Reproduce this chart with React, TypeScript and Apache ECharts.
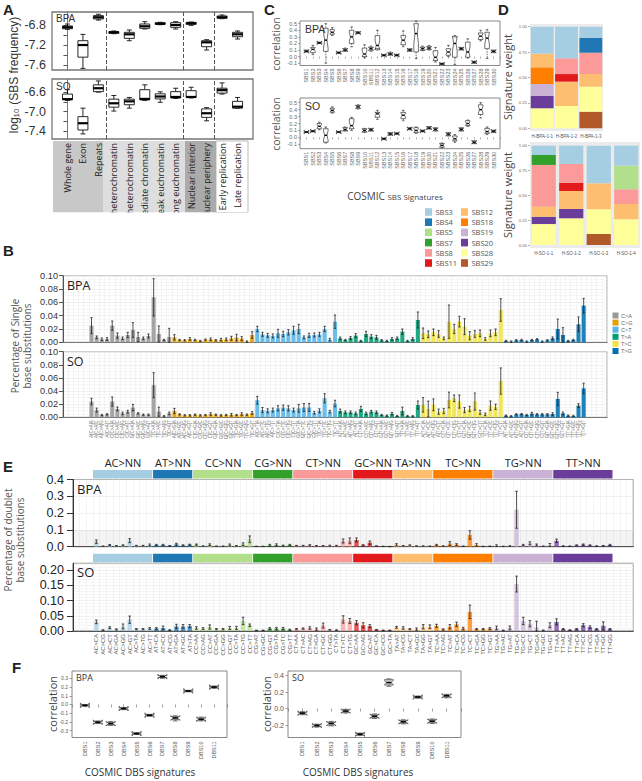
import React, { useEffect, useRef } from "react";
import * as echarts from "echarts";

// ---------------- Panel A ----------------
const A_CATEGORIES = ["Whole gene", "Exon", "Repeats", "Strong heterochromatin", "Weak heterochromatin", "Intermediate chromatin", "Weak euchromatin", "Strong euchromatin", "Nuclear interior", "Nuclear periphery", "Early replication", "Late replication"];
// [min, q1, median, q3, max]
const A_BPA = [
  [-6.877, -6.865, -6.836, -6.81, -6.77],
  [-7.667, -7.44, -7.195, -7.107, -6.98],
  [-6.69, -6.668, -6.634, -6.6, -6.573],
  [-6.966, -6.958, -6.938, -6.925, -6.911],
  [-7.108, -7.06, -6.978, -6.938, -6.891],
  [-6.871, -6.857, -6.816, -6.77, -6.723],
  [-6.784, -6.776, -6.764, -6.743, -6.735],
  [-6.871, -6.837, -6.79, -6.743, -6.723],
  [-6.797, -6.776, -6.757, -6.737, -6.73],
  [-7.296, -7.229, -7.14, -7.108, -7.087],
  [-6.662, -6.654, -6.634, -6.607, -6.587],
  [-7.074, -7.027, -6.978, -6.938, -6.911],
];
const A_SO = [
  [-6.77, -6.755, -6.745, -6.64, -6.55],
  [-7.46, -7.38, -7.24, -7.105, -6.93],
  [-6.6, -6.59, -6.52, -6.45, -6.37],
  [-6.99, -6.91, -6.83, -6.745, -6.67],
  [-6.93, -6.86, -6.79, -6.745, -6.71],
  [-6.77, -6.76, -6.74, -6.55, -6.45],
  [-6.81, -6.74, -6.69, -6.635, -6.594],
  [-6.73, -6.72, -6.7, -6.59, -6.52],
  [-6.72, -6.71, -6.7, -6.57, -6.5],
  [-7.19, -7.12, -7.035, -6.945, -6.92],
  [-6.64, -6.62, -6.56, -6.52, -6.41],
  [-6.93, -6.93, -6.9, -6.79, -6.71],
];
const A_GROUP_BREAKS = [2.5, 7.5, 9.5];
const A_BPA_TICKS = [-7.6, -7.4, -7.2, -7.0, -6.8];
const A_BPA_LABELS = [-7.6, -7.2, -6.8];
const A_SO_TICKS = [-7.4, -7.2, -7.0, -6.8, -6.6];
const A_SO_LABELS = [-7.4, -7.0, -6.6];

// ---------------- Panel C ----------------
const C_SIGNATURES = ["SBS1", "SBS2", "SBS3", "SBS4", "SBS5", "SBS6", "SBS7", "SBS8", "SBS9", "SBS10", "SBS11", "SBS12", "SBS13", "SBS14", "SBS15", "SBS16", "SBS17", "SBS18", "SBS19", "SBS20", "SBS21", "SBS22", "SBS23", "SBS24", "SBS25", "SBS26", "SBS27", "SBS28", "SBS29", "SBS30"];
const C_BPA = [
  [0.07, 0.075, 0.08, 0.09, 0.1], [0.03, 0.06, 0.11, 0.14, 0.17], [0.2, 0.205, 0.21, 0.215, 0.22],
  [-0.1, 0.08, 0.25, 0.43, 0.5], [0.32, 0.34, 0.37, 0.41, 0.44], [0.05, 0.055, 0.06, 0.065, 0.07],
  [0.08, 0.09, 0.1, 0.115, 0.13], [0.15, 0.2, 0.3, 0.4, 0.45], [0.35, 0.355, 0.36, 0.37, 0.38],
  [-0.02, 0.0, 0.04, 0.13, 0.18], [0.08, 0.1, 0.12, 0.14, 0.16], [0.1, 0.12, 0.17, 0.32, 0.4],
  [0.01, 0.015, 0.02, 0.025, 0.03], [0.02, 0.03, 0.04, 0.05, 0.07], [0.01, 0.015, 0.02, 0.03, 0.035],
  [0.15, 0.18, 0.25, 0.32, 0.39], [0.08, 0.09, 0.1, 0.11, 0.12], [-0.03, 0.07, 0.35, 0.5, 0.54],
  [0.09, 0.1, 0.12, 0.14, 0.16], [0.1, 0.11, 0.13, 0.15, 0.17], [-0.08, -0.06, -0.01, 0.09, 0.14],
  [-0.12, -0.115, -0.11, -0.105, -0.1], [0.0, 0.02, 0.07, 0.12, 0.17], [-0.12, -0.01, 0.2, 0.3, 0.32],
  [0.1, 0.11, 0.12, 0.13, 0.14], [-0.02, -0.01, 0.07, 0.22, 0.27], [-0.1, -0.095, -0.085, -0.075, -0.07],
  [0.24, 0.26, 0.31, 0.36, 0.4], [-0.03, 0.12, 0.28, 0.37, 0.41], [0.06, 0.07, 0.08, 0.09, 0.1],
];
const C_SO = [
  [0.07, 0.073, 0.077, 0.082, 0.085], [0.08, 0.085, 0.09, 0.095, 0.1], [0.11, 0.125, 0.16, 0.2, 0.22],
  [-0.08, -0.07, 0.03, 0.125, 0.15], [0.35, 0.365, 0.39, 0.42, 0.44], [0.07, 0.073, 0.077, 0.082, 0.085],
  [0.09, 0.1, 0.115, 0.14, 0.15], [0.1, 0.125, 0.17, 0.27, 0.29], [0.41, 0.42, 0.44, 0.46, 0.47],
  [0.07, 0.08, 0.1, 0.12, 0.13], [0.09, 0.1, 0.11, 0.125, 0.13], [0.26, 0.29, 0.34, 0.36, 0.39],
  [-0.03, -0.025, -0.02, -0.015, -0.01], [0.03, 0.04, 0.05, 0.06, 0.07], [0.045, 0.05, 0.055, 0.06, 0.065],
  [0.24, 0.27, 0.32, 0.36, 0.39], [0.11, 0.115, 0.125, 0.135, 0.14], [0.06, 0.07, 0.1, 0.14, 0.15],
  [0.08, 0.085, 0.09, 0.1, 0.105], [0.12, 0.13, 0.135, 0.15, 0.155], [0.09, 0.1, 0.115, 0.13, 0.14],
  [-0.15, -0.14, -0.115, -0.09, -0.08], [0.02, 0.03, 0.045, 0.06, 0.07], [-0.07, -0.05, -0.02, 0.02, 0.04],
  [0.09, 0.1, 0.115, 0.13, 0.14], [0.16, 0.17, 0.2, 0.24, 0.25], [-0.09, -0.085, -0.07, -0.055, -0.05],
  [0.28, 0.33, 0.4, 0.47, 0.5], [0.04, 0.06, 0.085, 0.13, 0.15], [0.07, 0.08, 0.09, 0.1, 0.105],
];
const C_TICKS = [-0.1, 0, 0.1, 0.2, 0.3, 0.4, 0.5];

// ---------------- Panel D ----------------
const D_SIGNATURES = ["SBS3", "SBS4", "SBS5", "SBS7", "SBS8", "SBS11", "SBS12", "SBS18", "SBS19", "SBS20", "SBS28", "SBS29"];
const D_COLORS = ["#a6cee3", "#1f78b4", "#b2df8a", "#33a02c", "#fb9a99", "#e31a1c", "#fdbf6f", "#ff7f00", "#cab2d6", "#6a3d9a", "#ffff99", "#b15928"];
const D_BPA_SAMPLES = ["H-BPA-1-1", "H-BPA-1-2", "H-BPA-1-3"];
const D_SO_SAMPLES = ["H-SO-1-1", "H-SO-1-2", "H-SO-1-3", "H-SO-1-4"];
const D_BPA_WEIGHTS = [
  [0.266, 0.311, 0.108], [0, 0, 0.148], [0, 0, 0], [0, 0, 0], [0, 0.155, 0.21], [0, 0.075, 0],
  [0.134, 0.24, 0.124], [0.164, 0, 0], [0.118, 0, 0], [0.121, 0, 0], [0.197, 0.219, 0.247], [0, 0, 0.163],
];
const D_SO_WEIGHTS = [
  [0.094, 0.184, 0.379, 0.201], [0, 0, 0, 0], [0, 0, 0, 0.238], [0.1, 0, 0, 0], [0.42, 0.189, 0, 0.148], [0, 0.083, 0, 0],
  [0.101, 0.181, 0.261, 0.154], [0, 0, 0, 0], [0, 0, 0, 0], [0.074, 0.094, 0, 0], [0.211, 0.269, 0.249, 0.259], [0, 0, 0.111, 0],
];
const D_TICKS = [0, 0.25, 0.5, 0.75, 1];

// ---------------- Panel B ----------------
const SBS_TYPES = ["C>A", "C>G", "C>T", "T>A", "T>C", "T>G"];
const SBS_COLORS = ["#999999", "#E69F00", "#56B4E9", "#009E73", "#F0E442", "#0072B2"];
const BASES = ["A", "C", "G", "T"];
const BPA_SBS_MEAN = [
  [0.025, 0.0075, 0.0045, 0.005, 0.025, 0.01, 0.006, 0.011, 0.0185, 0.008, 0.006, 0.0095, 0.0675, 0.0125, 0.0035, 0.008],
  [0.0075, 0.0035, 0.003, 0.005, 0.0035, 0.002, 0.004, 0.0045, 0.003, 0.004, 0.0045, 0.006, 0.007, 0.0055, 0.001, 0.011],
  [0.02, 0.012, 0.0105, 0.0095, 0.0135, 0.0125, 0.015, 0.018, 0.02, 0.0075, 0.0105, 0.011, 0.012, 0.02, 0.004, 0.031],
  [0.006, 0.0035, 0.0065, 0.01, 0.002, 0.0125, 0.0085, 0.0075, 0.003, 0.002, 0.005, 0.006, 0.016, 0.002, 0.005, 0.0335],
  [0.0135, 0.012, 0.015, 0.0125, 0.006, 0.031, 0.02, 0.031, 0.0235, 0.01, 0.0125, 0.0135, 0.005, 0.0135, 0.015, 0.0485],
  [0.002, 0.001, 0.003, 0.0035, 0.001, 0.0035, 0.0045, 0.001, 0.003, 0.006, 0.02, 0.011, 0.002, 0.0035, 0.027, 0.055],
];
const BPA_SBS_SD = [
  [0.012, 0.002, 0.002, 0.002, 0.007, 0.004, 0.002, 0.004, 0.011, 0.007, 0.002, 0.003, 0.028, 0.012, 0.001, 0.013],
  [0.004, 0.001, 0.001, 0.002, 0.001, 0.001, 0.001, 0.002, 0.001, 0.002, 0.002, 0.003, 0.005, 0.003, 0.001, 0.005],
  [0.004, 0.003, 0.003, 0.003, 0.006, 0.004, 0.004, 0.006, 0.007, 0.002, 0.003, 0.003, 0.003, 0.004, 0.002, 0.01],
  [0.002, 0.001, 0.002, 0.003, 0.001, 0.004, 0.003, 0.003, 0.001, 0.001, 0.002, 0.002, 0.004, 0.001, 0.002, 0.012],
  [0.008, 0.005, 0.005, 0.005, 0.002, 0.025, 0.007, 0.008, 0.012, 0.006, 0.005, 0.005, 0.002, 0.005, 0.005, 0.017],
  [0.001, 0.001, 0.001, 0.001, 0.001, 0.001, 0.001, 0.001, 0.001, 0.002, 0.015, 0.011, 0.001, 0.001, 0.011, 0.011],
];
const SO_SBS_MEAN = [
  [0.024, 0.011, 0.0035, 0.0045, 0.024, 0.0127, 0.006, 0.0086, 0.0147, 0.006, 0.004, 0.004, 0.049, 0.0086, 0.0015, 0.006],
  [0.0096, 0.0045, 0.003, 0.003, 0.004, 0.003, 0.0035, 0.005, 0.004, 0.003, 0.0035, 0.004, 0.0035, 0.005, 0.004, 0.0066],
  [0.026, 0.011, 0.01, 0.011, 0.0137, 0.0147, 0.0137, 0.011, 0.0137, 0.015, 0.015, 0.007, 0.01, 0.029, 0.0086, 0.021],
  [0.0096, 0.0076, 0.0076, 0.006, 0.0127, 0.006, 0.0086, 0.0076, 0.0035, 0.0025, 0.0055, 0.002, 0.0096, 0.002, 0.0015, 0.0188],
  [0.019, 0.0127, 0.019, 0.0086, 0.0096, 0.0264, 0.029, 0.024, 0.011, 0.0127, 0.024, 0.0076, 0.0045, 0.0178, 0.016, 0.0553],
  [0.0025, 0.0015, 0.0045, 0.005, 0.0035, 0.0056, 0.0045, 0.0045, 0.0045, 0.005, 0.028, 0.006, 0.0025, 0.002, 0.0178, 0.044],
];
const SO_SBS_SD = [
  [0.005, 0.003, 0.001, 0.001, 0.007, 0.003, 0.002, 0.002, 0.005, 0.001, 0.001, 0.001, 0.019, 0.007, 0.001, 0.002],
  [0.004, 0.001, 0.001, 0.001, 0.001, 0.001, 0.001, 0.002, 0.001, 0.001, 0.001, 0.002, 0.001, 0.002, 0.001, 0.002],
  [0.006, 0.004, 0.003, 0.003, 0.004, 0.004, 0.004, 0.003, 0.006, 0.006, 0.006, 0.002, 0.003, 0.007, 0.002, 0.005],
  [0.003, 0.002, 0.002, 0.002, 0.004, 0.002, 0.002, 0.002, 0.001, 0.001, 0.002, 0.001, 0.006, 0.001, 0.001, 0.006],
  [0.011, 0.012, 0.009, 0.004, 0.004, 0.012, 0.005, 0.01, 0.004, 0.004, 0.013, 0.003, 0.002, 0.007, 0.004, 0.02],
  [0.001, 0.001, 0.001, 0.001, 0.001, 0.002, 0.001, 0.001, 0.001, 0.002, 0.01, 0.002, 0.001, 0.001, 0.003, 0.008],
];

// ---------------- Panel E ----------------
const DBS_GROUPS = ["AC>NN", "AT>NN", "CC>NN", "CG>NN", "CT>NN", "GC>NN", "TA>NN", "TC>NN", "TG>NN", "TT>NN"];
const DBS_GROUP_COLORS = ["#a6cee3", "#1f78b4", "#b2df8a", "#33a02c", "#fb9a99", "#e31a1c", "#fdbf6f", "#ff7f00", "#cab2d6", "#6a3d9a"];
const DBS_CONTEXTS = [
  "AC>CA", "AC>CG", "AC>CT", "AC>GA", "AC>GG", "AC>GT", "AC>TA", "AC>TG", "AC>TT",
  "AT>CA", "AT>CC", "AT>CG", "AT>GA", "AT>GC", "AT>TA",
  "CC>AA", "CC>AG", "CC>AT", "CC>GA", "CC>GG", "CC>GT", "CC>TA", "CC>TG", "CC>TT",
  "CG>AT", "CG>GC", "CG>GT", "CG>TA", "CG>TC", "CG>TT",
  "CT>AA", "CT>AC", "CT>AG", "CT>GA", "CT>GC", "CT>GG", "CT>TA", "CT>TC", "CT>TG",
  "GC>AA", "GC>AG", "GC>AT", "GC>CA", "GC>CG", "GC>TA",
  "TA>AT", "TA>CG", "TA>CT", "TA>GC", "TA>GG", "TA>GT",
  "TC>AA", "TC>AG", "TC>AT", "TC>CA", "TC>CG", "TC>CT", "TC>GA", "TC>GG", "TC>GT",
  "TG>AA", "TG>AC", "TG>AT", "TG>CA", "TG>CC", "TG>CT", "TG>GA", "TG>GC", "TG>GT",
  "TT>AA", "TT>AC", "TT>AG", "TT>CA", "TT>CC", "TT>CG", "TT>GA", "TT>GC", "TT>GG",
];
const BPA_DBS_MEAN = [
  [0.03, 0.003, 0.01, 0.005, 0.008, 0.036, 0.006, 0.006, 0.01],
  [0.01, 0.01, 0.005, 0.014, 0.008, 0.012],
  [0.012, 0.004, 0.012, 0.003, 0.003, 0.01, 0.005, 0.015, 0.044],
  [0.002, 0.002, 0.008, 0.01, 0.006, 0.01],
  [0.006, 0.006, 0.008, 0.005, 0.005, 0.006, 0.006, 0.034, 0.036],
  [0.04, 0.008, 0.024, 0.004, 0.002, 0.001],
  [0.012, 0.005, 0.008, 0.004, 0.004, 0.003],
  [0.01, 0.004, 0.018, 0.012, 0.003, 0.07, 0.01, 0.002, 0.003],
  [0.006, 0.002, 0.004, 0.22, 0.01, 0.02, 0.01, 0.003, 0.01],
  [0.035, 0.004, 0.003, 0.008, 0.012, 0.008, 0.004, 0.005, 0.01],
];
const BPA_DBS_SD = [
  [0.01, 0.001, 0.003, 0.002, 0.003, 0.012, 0.002, 0.002, 0.006],
  [0.004, 0.004, 0.002, 0.006, 0.003, 0.003],
  [0.004, 0.001, 0.005, 0.001, 0.001, 0.006, 0.002, 0.008, 0.02],
  [0.001, 0.001, 0.006, 0.007, 0.003, 0.004],
  [0.002, 0.002, 0.004, 0.002, 0.002, 0.003, 0.002, 0.012, 0.016],
  [0.012, 0.004, 0.01, 0.001, 0.001, 0.001],
  [0.006, 0.002, 0.003, 0.001, 0.001, 0.001],
  [0.004, 0.001, 0.012, 0.006, 0.001, 0.025, 0.008, 0.001, 0.001],
  [0.005, 0.001, 0.002, 0.11, 0.004, 0.009, 0.006, 0.001, 0.009],
  [0.01, 0.001, 0.001, 0.003, 0.004, 0.003, 0.001, 0.002, 0.004],
];
const SO_DBS_MEAN = [
  [0.03, 0.003, 0.011, 0.005, 0.015, 0.037, 0.006, 0.006, 0.008],
  [0.008, 0.01, 0.003, 0.015, 0.015, 0.016],
  [0.01, 0.008, 0.013, 0.006, 0.006, 0.01, 0.01, 0.033, 0.019],
  [0.002, 0.002, 0.008, 0.008, 0.008, 0.004],
  [0.006, 0.008, 0.01, 0.006, 0.018, 0.004, 0.003, 0.038, 0.033],
  [0.027, 0.019, 0.016, 0.004, 0.002, 0.002],
  [0.012, 0.01, 0.006, 0.006, 0.014, 0.014],
  [0.017, 0.005, 0.014, 0.022, 0.008, 0.063, 0.006, 0.006, 0.008],
  [0.01, 0.002, 0.01, 0.154, 0.033, 0.024, 0.012, 0.002, 0.019],
  [0.03, 0.006, 0.003, 0.006, 0.019, 0.013, 0.006, 0.017, 0.006],
];
const SO_DBS_SD = [
  [0.006, 0.001, 0.003, 0.002, 0.008, 0.012, 0.002, 0.002, 0.003],
  [0.003, 0.006, 0.001, 0.007, 0.006, 0.005],
  [0.004, 0.003, 0.007, 0.002, 0.002, 0.005, 0.005, 0.012, 0.004],
  [0.001, 0.001, 0.003, 0.004, 0.004, 0.002],
  [0.002, 0.002, 0.004, 0.004, 0.008, 0.001, 0.001, 0.012, 0.008],
  [0.007, 0.008, 0.005, 0.001, 0.001, 0.001],
  [0.003, 0.004, 0.002, 0.004, 0.007, 0.006],
  [0.005, 0.002, 0.007, 0.007, 0.004, 0.022, 0.002, 0.002, 0.003],
  [0.006, 0.001, 0.006, 0.026, 0.012, 0.01, 0.02, 0.001, 0.008],
  [0.01, 0.002, 0.001, 0.002, 0.005, 0.004, 0.002, 0.013, 0.002],
];

// ---------------- Panel F ----------------
const F_SIGNATURES = ["DBS1", "DBS2", "DBS3", "DBS4", "DBS5", "DBS6", "DBS7", "DBS8", "DBS9", "DBS10", "DBS11"];
const F_BPA = [
  [-0.02, -0.015, -0.01, -0.005, 0.0], [-0.22, -0.215, -0.205, -0.195, -0.19], [-0.24, -0.235, -0.22, -0.205, -0.195],
  [-0.06, -0.055, -0.047, -0.04, -0.035], [-0.345, -0.34, -0.335, -0.33, -0.325], [-0.135, -0.13, -0.124, -0.118, -0.113],
  [0.3, 0.31, 0.32, 0.33, 0.335], [-0.19, -0.175, -0.155, -0.14, -0.13], [0.145, 0.15, 0.155, 0.16, 0.163],
  [-0.19, -0.18, -0.17, -0.155, -0.145], [0.185, 0.193, 0.2, 0.207, 0.213],
];
const F_SO = [
  [-0.075, -0.068, -0.055, -0.045, -0.038], [-0.225, -0.215, -0.205, -0.195, -0.188], [-0.21, -0.2, -0.18, -0.165, -0.155],
  [-0.055, -0.045, -0.03, -0.015, -0.008], [-0.325, -0.32, -0.31, -0.302, -0.296], [-0.12, -0.11, -0.092, -0.075, -0.065],
  [0.27, 0.285, 0.315, 0.35, 0.36], [-0.185, -0.175, -0.16, -0.145, -0.135], [0.125, 0.132, 0.14, 0.147, 0.152],
  [-0.18, -0.17, -0.152, -0.135, -0.125], [0.13, 0.14, 0.155, 0.165, 0.173],
];
const F_BPA_TICKS = [-0.3, -0.2, -0.1, 0, 0.1, 0.2, 0.3];
const F_SO_TICKS = [-0.2, 0, 0.2, 0.4];

// ---------------- helpers ----------------
const ARIAL = "'Liberation Sans', Arial, sans-serif";
const SANS = "'Open Sans', 'Noto Sans', sans-serif";

function boxRenderer(cfg: any) {
  return (params: any, api: any) => {
    const x = api.value(0);
    const lo = api.value(1), q1 = api.value(2), med = api.value(3), q3 = api.value(4), hi = api.value(5);
    const c = api.coord([x, med]);
    const cx = c[0], yMed = c[1];
    const yLo = api.coord([x, lo])[1];
    const yQ1 = api.coord([x, q1])[1];
    const yQ3 = api.coord([x, q3])[1];
    const yHi = api.coord([x, hi])[1];
    const hw = cfg.w / 2;
    const ls = { stroke: cfg.stroke, lineWidth: cfg.lw, lineDash: cfg.dash || null };
    const cs = { stroke: cfg.stroke, lineWidth: cfg.lw };
    const ch: any[] = [
      { type: "line", shape: { x1: cx, y1: yHi, x2: cx, y2: yQ3 }, style: ls },
      { type: "line", shape: { x1: cx, y1: yQ1, x2: cx, y2: yLo }, style: ls },
      { type: "line", shape: { x1: cx - cfg.cap / 2, y1: yHi, x2: cx + cfg.cap / 2, y2: yHi }, style: cs },
      { type: "line", shape: { x1: cx - cfg.cap / 2, y1: yLo, x2: cx + cfg.cap / 2, y2: yLo }, style: cs },
    ];
    if (cfg.notch) {
      const n = Math.max((q3 - q1) * 0.35, cfg.minNotch);
      const yNH = api.coord([x, med + n])[1];
      const yNL = api.coord([x, med - n])[1];
      const pts = [
        [cx - hw, yQ3], [cx + hw, yQ3], [cx + hw, yNH], [cx + hw * 0.5, yMed], [cx + hw, yNL], [cx + hw, yQ1],
        [cx - hw, yQ1], [cx - hw, yNL], [cx - hw * 0.5, yMed], [cx - hw, yNH],
      ];
      ch.push({ type: "polygon", shape: { points: pts }, style: { fill: cfg.fill, stroke: cfg.stroke, lineWidth: cfg.lw } });
      ch.push({ type: "line", shape: { x1: cx - hw * 0.55, y1: yMed, x2: cx + hw * 0.55, y2: yMed }, style: { stroke: "#000", lineWidth: cfg.medW } });
    } else {
      ch.push({ type: "rect", shape: { x: cx - hw, y: yQ3, width: cfg.w, height: Math.max(yQ1 - yQ3, 0.5) }, style: { fill: cfg.fill, stroke: cfg.stroke, lineWidth: cfg.lw } });
      ch.push({ type: "line", shape: { x1: cx - hw, y1: yMed, x2: cx + hw, y2: yMed }, style: { stroke: "#000", lineWidth: cfg.medW } });
    }
    return { type: "group", children: ch };
  };
}

function errRenderer(capW: number) {
  return (params: any, api: any) => {
    const x = api.value(0), v = api.value(1), sd = api.value(2);
    const t = api.coord([x, v + sd]);
    const b = api.coord([x, Math.max(0, v - sd)]);
    const st = { stroke: "#222", lineWidth: 0.8 };
    return {
      type: "group",
      children: [
        { type: "line", shape: { x1: t[0], y1: t[1], x2: b[0], y2: b[1] }, style: st },
        { type: "line", shape: { x1: t[0] - capW / 2, y1: t[1], x2: t[0] + capW / 2, y2: t[1] }, style: st },
        { type: "line", shape: { x1: b[0] - capW / 2, y1: b[1], x2: b[0] + capW / 2, y2: b[1] }, style: st },
      ],
    };
  };
}

function bandRenderer(withLabels: boolean) {
  return (params: any, api: any) => {
    const s = api.value(0), e = api.value(2), g = api.value(3);
    const w = api.size([1, 0])[0];
    const x0 = api.coord([s, 0])[0] - w / 2;
    const x1 = api.coord([e, 0])[0] + w / 2;
    const top = params.coordSys.y;
    const ch: any[] = [{ type: "rect", shape: { x: x0, y: top - 9.5, width: x1 - x0 - 0.8, height: 8.5 }, style: { fill: DBS_GROUP_COLORS[g] } }];
    if (withLabels) {
      ch.push({
        type: "text",
        style: { text: DBS_GROUPS[g], x: (x0 + x1) / 2, y: top - 12, fill: "#222", fontSize: 11, fontFamily: SANS, align: "center", verticalAlign: "bottom", textAlign: "center", textVerticalAlign: "bottom" },
      });
    }
    return { type: "group", children: ch };
  };
}

function txt(x: number, y: number, text: string, o: any = {}) {
  const align = o.align || "left";
  const valign = o.valign || "top";
  return {
    type: "text",
    x, y,
    rotation: o.rot || 0,
    z: o.z || 10,
    style: {
      text,
      fill: o.fill || "#222",
      fontSize: o.size || 10,
      fontFamily: o.family || ARIAL,
      fontWeight: o.weight || "normal",
      lineHeight: o.lh,
      rich: o.rich,
      align, verticalAlign: valign, textAlign: align, textVerticalAlign: valign,
    },
  };
}

const B_PAD_L = 5;
const B_PAD_R = 4;
const E_PAD = 3;

function buildOption() {
  const grid: any[] = [];
  const xAxis: any[] = [];
  const yAxis: any[] = [];
  const series: any[] = [];
  const g = (left: number, top: number, width: number, height: number, extra: any = {}) => {
    grid.push({ left, top, width, height, containLabel: false, outerBoundsMode: "none", ...extra });
    return grid.length - 1;
  };
  const noAxis = { axisLine: { show: false }, axisTick: { show: false }, splitLine: { show: false } };

  // ---------- A ----------
  const aFrame = { show: true, borderColor: "#777", borderWidth: 1.3 };
  const aYLabel = { fontSize: 12.5, color: "#333", fontFamily: ARIAL, margin: 6, formatter: (v: number) => v.toFixed(1) };
  const aBox = boxRenderer({ w: 10, cap: 5, stroke: "#111", lw: 0.9, medW: 2.2, fill: "#fff", notch: false });
  const aMark = {
    symbol: "none", silent: true, label: { show: false },
    lineStyle: { type: "dashed", color: "#555", width: 1 },
    data: A_GROUP_BREAKS.map((b) => ({ xAxis: b })),
  };
  [
    { data: A_BPA, top: 12, h: 58, min: -7.70, max: -6.527, ticks: A_BPA_TICKS, labels: A_BPA_LABELS, showX: false },
    { data: A_SO, top: 79, h: 60, min: -7.565, max: -6.33, ticks: A_SO_TICKS, labels: A_SO_LABELS, showX: true },
  ].forEach((p) => {
    const gi = g(52, p.top, 201, p.h, aFrame);
    xAxis.push({
      type: "value", gridIndex: gi, min: -1, max: 12, interval: 1, ...noAxis,
      axisLabel: p.showX
        ? { show: true, rotate: 90, fontSize: 9, color: "#222", fontFamily: SANS, margin: 4, formatter: (v: number) => A_CATEGORIES[v] || "" }
        : { show: false },
    });
    yAxis.push({
      type: "value", gridIndex: gi, min: p.min, max: p.max,
      axisLine: { show: true, lineStyle: { color: "#777" } },
      axisTick: { show: true, length: 4, customValues: p.ticks, lineStyle: { color: "#555" } },
      axisLabel: { ...aYLabel, customValues: p.labels },
      splitLine: { show: false },
    });
    series.push({
      type: "custom", xAxisIndex: xAxis.length - 1, yAxisIndex: yAxis.length - 1, clip: false,
      renderItem: aBox, encode: { x: 0, y: [1, 2, 3, 4, 5] },
      data: p.data.map((b, i) => [i, ...b]), markLine: aMark,
    });
  });

  // ---------- C ----------
  const cBox = boxRenderer({ w: 4.6, cap: 2.6, stroke: "#333", lw: 0.7, medW: 1.4, fill: "#fff", notch: true, minNotch: 0.028, dash: [1.5, 1] });
  [
    { data: C_BPA, top: 21, h: 44.5, min: -0.135, max: 0.541 },
    { data: C_SO, top: 98, h: 50.7, min: -0.163, max: 0.568 },
  ].forEach((p) => {
    const gi = g(300, p.top, 200, p.h, { show: true, borderColor: "#888", borderWidth: 1 });
    xAxis.push({
      type: "value", gridIndex: gi, min: 0, max: 31, interval: 1,
      axisLine: { show: false }, splitLine: { show: false },
      axisTick: { show: true, length: 2, lineStyle: { color: "#777", width: 0.6 } },
      axisLabel: { rotate: 90, fontSize: 5.5, color: "#666", fontFamily: ARIAL, margin: 3, formatter: (v: number) => C_SIGNATURES[v - 1] || "" },
    });
    yAxis.push({
      type: "value", gridIndex: gi, min: p.min, max: p.max,
      axisLine: { show: false }, splitLine: { show: false },
      axisTick: { show: true, length: 2, customValues: C_TICKS, lineStyle: { color: "#777", width: 0.6 } },
      axisLabel: { customValues: C_TICKS, fontSize: 5.5, color: "#666", fontFamily: ARIAL, margin: 3, formatter: (v: number) => v.toFixed(1) },
    });
    series.push({
      type: "custom", xAxisIndex: xAxis.length - 1, yAxisIndex: yAxis.length - 1, clip: false,
      renderItem: cBox, encode: { x: 0, y: [1, 2, 3, 4, 5] },
      data: p.data.map((b, i) => [i + 1, ...b]),
    });
  });

  // ---------- D ----------
  [
    { samples: D_BPA_SAMPLES, weights: D_BPA_WEIGHTS, left: 530, top: 24, w: 73, h: 107, min: -0.027, max: 1.027, gap: "6%", stack: "dbpa" },
    { samples: D_SO_SAMPLES, weights: D_SO_WEIGHTS, left: 530, top: 142, w: 110, h: 106, min: -0.03, max: 1.037, gap: "12%", stack: "dso" },
  ].forEach((p) => {
    const gi = g(p.left, p.top, p.w, p.h, { show: true, backgroundColor: "#ebebeb", borderWidth: 0 });
    xAxis.push({
      type: "category", gridIndex: gi, data: p.samples, ...noAxis,
      axisLabel: { fontSize: 4.5, color: "#555", fontFamily: ARIAL, margin: 3, interval: 0 },
    });
    yAxis.push({
      type: "value", gridIndex: gi, min: p.min, max: p.max,
      axisLine: { show: false }, splitLine: { show: false },
      axisTick: { show: true, length: 2, customValues: D_TICKS, lineStyle: { color: "#666", width: 0.5 } },
      axisLabel: { customValues: D_TICKS, fontSize: 4.3, color: "#666", fontFamily: ARIAL, margin: 3, formatter: (v: number) => v.toFixed(2) },
    });
    for (let k = D_SIGNATURES.length - 1; k >= 0; k--) {
      series.push({
        type: "bar", name: D_SIGNATURES[k], stack: p.stack, xAxisIndex: xAxis.length - 1, yAxisIndex: yAxis.length - 1,
        data: p.weights[k], barCategoryGap: p.gap, itemStyle: { color: D_COLORS[k] },
      });
    }
  });

  // ---------- B ----------
  const SBS_CONTEXTS = SBS_TYPES.flatMap((m) => BASES.flatMap((b5) => BASES.map((b3) => `${b5}[${m}]${b3}`)));
  const bCats = [
    ...Array.from({ length: B_PAD_L }, (_, i) => "padL" + i),
    ...SBS_CONTEXTS,
    ...Array.from({ length: B_PAD_R }, (_, i) => "padR" + i),
  ];
  const sbsBars = (mean: number[][]) => {
    const out: any[] = bCats.map(() => "-");
    mean.forEach((row, t) => row.forEach((v, k) => { out[B_PAD_L + t * 16 + k] = { value: v, itemStyle: { color: SBS_COLORS[t], opacity: 0.88 } }; }));
    return out;
  };
  const sbsErr = (mean: number[][], sd: number[][]) => {
    const out: any[] = [];
    mean.forEach((row, t) => row.forEach((v, k) => out.push([B_PAD_L + t * 16 + k, v, sd[t][k]])));
    return out;
  };
  [
    { mean: BPA_SBS_MEAN, sd: BPA_SBS_SD, top: 275.7, h: 66.6, showX: false },
    { mean: SO_SBS_MEAN, sd: SO_SBS_SD, top: 351.7, h: 65.6, showX: true },
  ].forEach((p) => {
    const gi = g(63, p.top, 544, p.h, { show: true, borderColor: "#999", borderWidth: 1 });
    xAxis.push({
      type: "category", gridIndex: gi, data: bCats,
      axisLine: { show: true, lineStyle: { color: "#777", width: 1.2 } }, axisTick: { show: false },
      splitLine: { show: true, interval: 0, lineStyle: { color: "#ececec", width: 0.6 } },
      axisLabel: p.showX
        ? { show: true, interval: 0, rotate: 90, fontSize: 4.5, color: "#777", fontFamily: ARIAL, margin: 3, formatter: (v: string) => (v.startsWith("pad") ? "" : v) }
        : { show: false },
    });
    yAxis.push({
      type: "value", gridIndex: gi, min: 0, max: 0.1, interval: 0.02,
      axisLine: { show: true, lineStyle: { color: "#555" } },
      axisTick: { show: true, length: 4, lineStyle: { color: "#555" } },
      minorTick: { show: false, splitNumber: 4 },
      minorSplitLine: { show: true, lineStyle: { color: "#f1f1f1", width: 0.6 } },
      splitLine: { show: true, lineStyle: { color: "#e6e6e6", width: 0.6 } },
      axisLabel: { fontSize: 9.2, color: "#333", fontFamily: ARIAL, margin: 5, formatter: (v: number) => v.toFixed(2) },
    });
    series.push({ type: "bar", xAxisIndex: xAxis.length - 1, yAxisIndex: yAxis.length - 1, data: sbsBars(p.mean), barWidth: "78%" });
    series.push({
      type: "custom", xAxisIndex: xAxis.length - 1, yAxisIndex: yAxis.length - 1, clip: false,
      renderItem: errRenderer(2.2), encode: { x: 0, y: 1 }, data: sbsErr(p.mean, p.sd), z: 5,
    });
  });

  // ---------- E ----------
  const eCats = [
    ...Array.from({ length: E_PAD }, (_, i) => "padL" + i),
    ...DBS_CONTEXTS,
    ...Array.from({ length: E_PAD }, (_, i) => "padR" + i),
  ];
  const groupStarts: number[] = [];
  let acc = 0;
  BPA_DBS_MEAN.forEach((row) => { groupStarts.push(acc); acc += row.length; });
  const bandData = BPA_DBS_MEAN.map((row, gIdx) => [E_PAD + groupStarts[gIdx], 0, E_PAD + groupStarts[gIdx] + row.length - 1, gIdx]);
  const dbsBars = (mean: number[][]) => {
    const out: any[] = eCats.map(() => "-");
    mean.forEach((row, gIdx) => row.forEach((v, k) => { out[E_PAD + groupStarts[gIdx] + k] = { value: v, itemStyle: { color: DBS_GROUP_COLORS[gIdx], opacity: 0.75 } }; }));
    return out;
  };
  const dbsErr = (mean: number[][], sd: number[][]) => {
    const out: any[] = [];
    mean.forEach((row, gIdx) => row.forEach((v, k) => out.push([E_PAD + groupStarts[gIdx] + k, v, sd[gIdx][k]])));
    return out;
  };
  [
    { mean: BPA_DBS_MEAN, sd: BPA_DBS_SD, top: 479.5, h: 67.2, max: 0.4, interval: 0.1, digits: 1, showX: false, labels: true, minor: 5, shade: true },
    { mean: SO_DBS_MEAN, sd: SO_DBS_SD, top: 563.3, h: 67.7, max: 0.222, interval: 0.05, digits: 2, showX: true, labels: false, minor: 5, shade: false },
  ].forEach((p) => {
    const gi = g(73, p.top, 560.3, p.h, { show: true, borderColor: "#666", borderWidth: 1 });
    xAxis.push({
      type: "category", gridIndex: gi, data: eCats,
      axisLine: { show: true, lineStyle: { color: "#555" } }, axisTick: { show: false },
      splitLine: { show: true, interval: 0, lineStyle: { color: "#ececec", width: 0.6 } },
      axisLabel: p.showX
        ? { show: true, interval: 0, rotate: 90, fontSize: 6, color: "#555", fontFamily: ARIAL, margin: 3, formatter: (v: string) => (v.startsWith("pad") ? "" : v) }
        : { show: false },
    });
    yAxis.push({
      type: "value", gridIndex: gi, min: 0, max: p.max, interval: p.interval,
      axisLine: { show: true, lineStyle: { color: "#333" } },
      axisTick: { show: true, length: 6, lineStyle: { color: "#333" } },
      minorTick: { show: false, splitNumber: p.minor },
      minorSplitLine: { show: !p.shade, lineStyle: { color: "#f0f0f0", width: 0.6 } },
      splitLine: { show: true, lineStyle: { color: "#e8e8e8", width: 0.6 } },
      axisLabel: { fontSize: 12.5, color: "#222", fontFamily: ARIAL, margin: 9, showMaxLabel: p.max === 0.4, formatter: (v: number) => v.toFixed(p.digits) },
    });
    const barSeries: any = { type: "bar", xAxisIndex: xAxis.length - 1, yAxisIndex: yAxis.length - 1, data: dbsBars(p.mean), barWidth: "66%" };
    if (p.shade) {
      barSeries.markArea = { silent: true, itemStyle: { color: "rgba(0,0,0,0.045)" }, data: [[{ yAxis: 0 }, { yAxis: 0.1 }]] };
    }
    series.push(barSeries);
    series.push({
      type: "custom", xAxisIndex: xAxis.length - 1, yAxisIndex: yAxis.length - 1, clip: false,
      renderItem: errRenderer(2.6), encode: { x: 0, y: 1 }, data: dbsErr(p.mean, p.sd), z: 5,
    });
    series.push({
      type: "custom", xAxisIndex: xAxis.length - 1, yAxisIndex: yAxis.length - 1, clip: false,
      renderItem: bandRenderer(p.labels), encode: { x: 0, y: 1 }, data: bandData, z: 6,
    });
  });

  // ---------- F ----------
  const fBox = boxRenderer({ w: 9, cap: 5, stroke: "#444", lw: 0.7, medW: 1.6, fill: "#d4d4d4", notch: true, minNotch: 0.028 });
  [
    { data: F_BPA, left: 72, w: 155, min: -0.38, max: 0.385, ticks: F_BPA_TICKS, fs: 5, digits: 1 },
    { data: F_SO, left: 288, w: 173, min: -0.35, max: 0.455, ticks: F_SO_TICKS, fs: 7, digits: 1 },
  ].forEach((p) => {
    const gi = g(p.left, 671, p.w, 66.5, { show: true, borderColor: "#888", borderWidth: 1 });
    xAxis.push({
      type: "value", gridIndex: gi, min: 0, max: 12, interval: 1,
      axisLine: { show: false }, splitLine: { show: false },
      axisTick: { show: true, length: 3, lineStyle: { color: "#666", width: 0.6 } },
      axisLabel: { rotate: 90, fontSize: 5.5, color: "#555", fontFamily: ARIAL, margin: 4, formatter: (v: number) => F_SIGNATURES[v - 1] || "" },
    });
    yAxis.push({
      type: "value", gridIndex: gi, min: p.min, max: p.max,
      axisLine: { show: false }, splitLine: { show: false },
      axisTick: { show: true, length: 2.5, customValues: p.ticks, lineStyle: { color: "#666", width: 0.6 } },
      axisLabel: { customValues: p.ticks, fontSize: p.fs, color: "#555", fontFamily: ARIAL, margin: 4, formatter: (v: number) => v.toFixed(p.digits) },
    });
    series.push({
      type: "custom", xAxisIndex: xAxis.length - 1, yAxisIndex: yAxis.length - 1, clip: false,
      renderItem: fBox, encode: { x: 0, y: [1, 2, 3, 4, 5] },
      data: p.data.map((b, i) => [i + 1, ...b]),
    });
  });

  // ---------- graphics (titles, panel letters, legends) ----------
  const gr: any[] = [];
  const rot = Math.PI / 2;
  gr.push(txt(3, 2, "A", { size: 15, weight: "bold" }));
  gr.push(txt(264, 2, "C", { size: 15, weight: "bold" }));
  gr.push(txt(498, 2, "D", { size: 15, weight: "bold" }));
  gr.push(txt(3, 243, "B", { size: 15, weight: "bold" }));
  gr.push(txt(3, 459, "E", { size: 15, weight: "bold" }));
  gr.push(txt(12, 660, "F", { size: 15, weight: "bold" }));

  // A
  gr.push(txt(14, 75, "log\u2081\u2080 (SBS frequency)", { size: 12, rot, align: "center", valign: "middle", fill: "#333" }));
  gr.push(txt(56, 13, "BPA", { size: 10, fill: "#333" }));
  gr.push(txt(56, 81, "SO", { size: 10, fill: "#333" }));
  gr.push({ type: "rect", z: -1, shape: { x: 53, y: 141, width: 50, height: 71.5 }, style: { fill: "#c8c8c8" } });
  gr.push({ type: "rect", z: -1, shape: { x: 103, y: 141, width: 82, height: 71.5 }, style: { fill: "#dedede" } });
  gr.push({ type: "rect", z: -1, shape: { x: 185, y: 141, width: 31, height: 71.5 }, style: { fill: "#ababab" } });
  gr.push({ type: "rect", z: -1, shape: { x: 216, y: 141, width: 32, height: 71.5 }, style: { fill: "#ffffff", stroke: "#aaa", lineWidth: 0.8 } });
  gr.push({ type: "rect", z: 100, shape: { x: 45, y: 212.5, width: 215, height: 50 }, style: { fill: "#ffffff" } });

  // C
  gr.push(txt(305, 23, "BPA", { size: 10.5, fill: "#333" }));
  gr.push(txt(305, 100, "SO", { size: 10.5, fill: "#333" }));
  gr.push(txt(276, 44, "correlation", { size: 10.5, rot, align: "center", valign: "middle", fill: "#555", family: SANS }));
  gr.push(txt(276, 124, "correlation", { size: 10.5, rot, align: "center", valign: "middle", fill: "#555", family: SANS }));
  gr.push(txt(395, 196, "{a|COSMIC} {b|SBS Signatures}", {
    align: "center", valign: "middle", family: SANS, fill: "#444",
    rich: { a: { fontSize: 10, fontFamily: SANS, fill: "#444", color: "#444" }, b: { fontSize: 8, fontFamily: SANS, fill: "#444", color: "#444" } },
  }));

  // D
  gr.push(txt(507, 77, "Signature weight", { size: 11, rot, align: "center", valign: "middle", fill: "#444", family: SANS }));
  gr.push(txt(507, 195, "Signature weight", { size: 11, rot, align: "center", valign: "middle", fill: "#444", family: SANS }));
  D_SIGNATURES.forEach((s, k) => {
    const col = k < 6 ? 0 : 1;
    const row = k % 6;
    const x = col === 0 ? 425 : 461;
    const y = 212 + row * 10.2;
    gr.push({ type: "rect", z: 10, shape: { x, y: y - 3.8, width: 7, height: 7.6 }, style: { fill: D_COLORS[k] } });
    gr.push(txt(x + 10.5, y, s, { size: 7.5, valign: "middle", fill: "#555", family: SANS }));
  });

  // B
  gr.push(txt(21, 346, "Percentage of Single\nbase substitutions", { size: 10, lh: 12, rot, align: "center", valign: "middle", fill: "#555", family: SANS }));
  gr.push(txt(67, 279, "BPA", { size: 12.5, fill: "#222", family: SANS }));
  gr.push(txt(67, 355, "SO", { size: 12.5, fill: "#222", family: SANS }));
  SBS_TYPES.forEach((t, k) => {
    const y = 315.5 + k * 7.1;
    gr.push({ type: "rect", z: 10, shape: { x: 612.5, y: y - 3, width: 6, height: 6 }, style: { fill: SBS_COLORS[k] } });
    gr.push(txt(621, y, t, { size: 5.5, valign: "middle", fill: "#666" }));
  });

  // E
  gr.push(txt(14, 540, "Percentage of doublet\nbase substitutions", { size: 10, lh: 12, rot, align: "center", valign: "middle", fill: "#555", family: SANS }));
  gr.push(txt(77, 482, "BPA", { size: 13, fill: "#222", family: SANS }));
  gr.push(txt(77, 565, "SO", { size: 13, fill: "#222", family: SANS }));

  // F
  gr.push(txt(76, 673, "BPA", { size: 9, fill: "#333", family: SANS }));
  gr.push(txt(292, 673, "SO", { size: 9, fill: "#333", family: SANS }));
  gr.push(txt(52, 704, "correlation", { size: 11, rot, align: "center", valign: "middle", fill: "#444", family: SANS }));
  gr.push(txt(266, 704, "correlation", { size: 11, rot, align: "center", valign: "middle", fill: "#444", family: SANS }));
  gr.push(txt(140, 772, "COSMIC DBS signatures", { size: 10, align: "center", valign: "middle", fill: "#333", family: SANS }));
  gr.push(txt(358, 772, "COSMIC DBS signatures", { size: 10, align: "center", valign: "middle", fill: "#333", family: SANS }));

  return {
    animation: false,
    backgroundColor: "#ffffff",
    grid, xAxis, yAxis, series,
    graphic: { elements: gr },
  };
}

export default function App() {
  const ref = useRef<HTMLDivElement>(null);
  useEffect(() => {
    if (!ref.current) return;
    const chart = echarts.init(ref.current, null, { renderer: "svg" });
    chart.setOption(buildOption() as any);
    return () => chart.dispose();
  }, []);
  return <div ref={ref} style={{ position: "absolute", left: 0, top: 0, width: 642, height: 781, background: "#fff" }} />;
}
